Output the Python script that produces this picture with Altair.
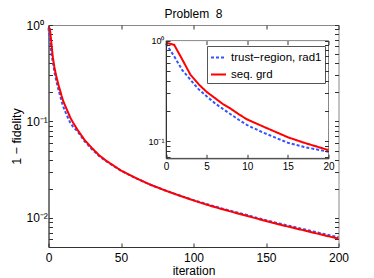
import altair as alt
import pandas as pd

# ---- data ----
iterations = [0, 1, 2, 3, 4, 5, 6, 7, 8, 9, 10, 12, 15, 17, 20, 25, 30, 35, 40,
              50, 60, 70, 80, 90, 100, 110, 120, 140, 150, 160, 180, 200]
trust_region = [0.93, 0.70, 0.51, 0.41, 0.33, 0.28, 0.24, 0.21, 0.185, 0.163, 0.145,
                0.122, 0.097, 0.088, 0.079, 0.062, 0.0515, 0.0437, 0.0385, 0.0309,
                0.026, 0.0222, 0.0194, 0.0172, 0.0153, 0.0138, 0.0125, 0.0104,
                0.0095, 0.0087, 0.0074, 0.0063]
seq_grd = [0.95, 0.91, 0.65, 0.46, 0.37, 0.31, 0.27, 0.235, 0.21, 0.185, 0.165,
           0.14, 0.11, 0.097, 0.082, 0.064, 0.053, 0.0445, 0.039, 0.031, 0.026,
           0.0222, 0.0194, 0.0171, 0.0152, 0.0136, 0.0123, 0.0102, 0.0093, 0.0085,
           0.0072, 0.0061]
names = ["trust\u2212region, rad1", "seq. grd"]
colors = ["#3355ff", "#ff0000"]
dashes = [[3, 2], [1, 0]]

main_xticks = [0, 50, 100, 150, 200]
main_ylabels = [0.01, 0.1, 1]
main_yticks = [0.005, 0.006, 0.007, 0.008, 0.009, 0.01, 0.02, 0.03, 0.04, 0.05, 0.06,
               0.07, 0.08, 0.09, 0.1, 0.2, 0.3, 0.4, 0.5, 0.6, 0.7, 0.8, 0.9, 1]
inset_xticks = [0, 5, 10, 15, 20]
inset_ylabels = [0.1, 1]
inset_yticks = [0.07, 0.08, 0.09, 0.1, 0.2, 0.3, 0.4, 0.5, 0.6, 0.7, 0.8, 0.9, 1]

rows = []
for name, vals in zip(names, [trust_region, seq_grd]):
    for it, v in zip(iterations, vals):
        rows.append({"iteration": it, "value": v, "method": name})
df = pd.DataFrame(rows)
df_in = df[df["iteration"] <= 20]
frame_df = pd.DataFrame({"x": [0], "x2": [20], "y": [0.068], "y2": [1.0]})

# ---- geometry ----
W, H = 290, 222
IX0, IX1 = 117.5, 280
IY0, IY1 = 15.6, 133.3

main_x = alt.Scale(domain=[0, 200], range=[0, W], nice=False, zero=False)
main_y = alt.Scale(type="log", domain=[0.005, 1], range=[H, 0], nice=False)
ins_x = alt.Scale(domain=[0, 20], range=[IX0, IX1], nice=False, zero=False)
ins_y = alt.Scale(type="log", domain=[0.068, 1.0], range=[IY1, IY0], nice=False)

label_expr = ("datum.value >= 0.99 ? '10\u2070' : datum.value >= 0.099 ? "
              "'10\u207b\u00b9' : '10\u207b\u00b2'")
DARK = "#333333"
FS = 12

legend_kw = dict(title=None, orient="none", legendX=158.5, legendY=21)
color_enc = alt.Color("method:N", scale=alt.Scale(domain=names, range=colors),
                      legend=alt.Legend(**legend_kw))
dash_enc = alt.StrokeDash("method:N", scale=alt.Scale(domain=names, range=dashes),
                          legend=alt.Legend(**legend_kw))

main_lines = alt.Chart(df).mark_line(strokeWidth=2).encode(
    x=alt.X("iteration:Q", scale=main_x,
            axis=alt.Axis(values=main_xticks, ticks=False, labelPadding=5,
                          title="iteration", titlePadding=2, labelFontSize=FS,
                          titleFontSize=FS, titleFontWeight="normal",
                          domainColor=DARK, labelColor="#000", grid=False,
                          labelFlush=False)),
    y=alt.Y("value:Q", scale=main_y,
            axis=alt.Axis(values=main_ylabels, labelExpr=label_expr, ticks=False,
                          labelAlign="left", labelPadding=22.5,
                          title="1 \u2212 fidelity", titlePadding=3,
                          labelFontSize=FS, titleFontSize=12.5,
                          titleFontWeight="normal", domainColor=DARK,
                          labelColor="#000", grid=False)),
    color=color_enc,
    strokeDash=dash_enc,
)


def tick_axis(orient, offset, values, zindex=0):
    return alt.Axis(orient=orient, offset=offset, values=values, labels=False,
                    domain=False, ticks=True, tickSize=4, tickColor=DARK,
                    title=None, grid=False, zindex=zindex)


main_ticks1 = alt.Chart(df).mark_line(opacity=0).encode(
    x=alt.X("iteration:Q", scale=main_x, axis=tick_axis("top", -H, main_xticks)),
    y=alt.Y("value:Q", scale=main_y, axis=tick_axis("right", -W, main_yticks)),
)
main_ticks2 = alt.Chart(df).mark_line(opacity=0).encode(
    x=alt.X("iteration:Q", scale=main_x, axis=tick_axis("bottom", -H, main_xticks)),
    y=alt.Y("value:Q", scale=main_y, axis=tick_axis("left", -W, main_yticks)),
)

inset_frame = alt.Chart(frame_df).mark_rect(fill="white", stroke="#888888",
                                            strokeWidth=1).encode(
    x=alt.X("x:Q", scale=ins_x, axis=None),
    x2="x2:Q",
    y=alt.Y("y:Q", scale=ins_y, axis=None),
    y2="y2:Q",
)

inset_lines = alt.Chart(df_in).mark_line(strokeWidth=2, clip=True).encode(
    x=alt.X("iteration:Q", scale=ins_x,
            axis=alt.Axis(orient="bottom", offset=-(H - IY1), values=inset_xticks,
                          ticks=False, labelPadding=3, labelFontSize=10,
                          domainColor=DARK, labelColor="#000", title=None,
                          grid=False, zindex=1, labelFlush=False)),
    y=alt.Y("value:Q", scale=ins_y,
            axis=alt.Axis(orient="left", offset=-IX0, values=inset_ylabels,
                          labelExpr=label_expr, ticks=False, labelPadding=2,
                          labelFontSize=9, domainColor=DARK, labelColor="#000",
                          title=None, grid=False, zindex=1)),
    color=alt.Color("method:N", scale=alt.Scale(domain=names, range=colors),
                    legend=None),
    strokeDash=alt.StrokeDash("method:N", scale=alt.Scale(domain=names, range=dashes),
                              legend=None),
)

inset_ticks1 = alt.Chart(df_in).mark_line(opacity=0).encode(
    x=alt.X("iteration:Q", scale=ins_x, axis=tick_axis("top", -IY1, inset_xticks, 1)),
    y=alt.Y("value:Q", scale=ins_y,
            axis=tick_axis("right", -(W - IX0), inset_yticks, 1)),
)
inset_ticks2 = alt.Chart(df_in).mark_line(opacity=0).encode(
    x=alt.X("iteration:Q", scale=ins_x,
            axis=tick_axis("bottom", -(H - IY0), inset_xticks, 1)),
    y=alt.Y("value:Q", scale=ins_y, axis=tick_axis("left", -IX1, inset_yticks, 1)),
)

chart = alt.layer(
    main_lines, main_ticks1, main_ticks2, inset_frame, inset_lines,
    inset_ticks1, inset_ticks2,
).resolve_scale(
    x="independent", y="independent", color="independent", strokeDash="independent"
).resolve_axis(x="independent", y="independent").properties(
    width=W, height=H,
    autosize=alt.AutoSizeParams(type="none"),
    padding={"left": 40.5, "top": 17, "right": 20, "bottom": 30},
    title=alt.TitleParams("Problem \u00a08", fontSize=12, fontWeight="normal",
                          offset=5, dy=7, frame="group", color="#000"),
).configure(font="Liberation Sans").configure_view(
    stroke="#888888", strokeWidth=1
).configure_legend(
    fillColor="white", strokeColor="#555555", padding=3, symbolType="stroke",
    symbolSize=225, symbolStrokeWidth=2, labelFontSize=11.5, labelColor="#000",
    rowPadding=3, labelOffset=4, labelLimit=200,
)

chart.save("out.html", embed_options={"renderer": "svg", "actions": False})
